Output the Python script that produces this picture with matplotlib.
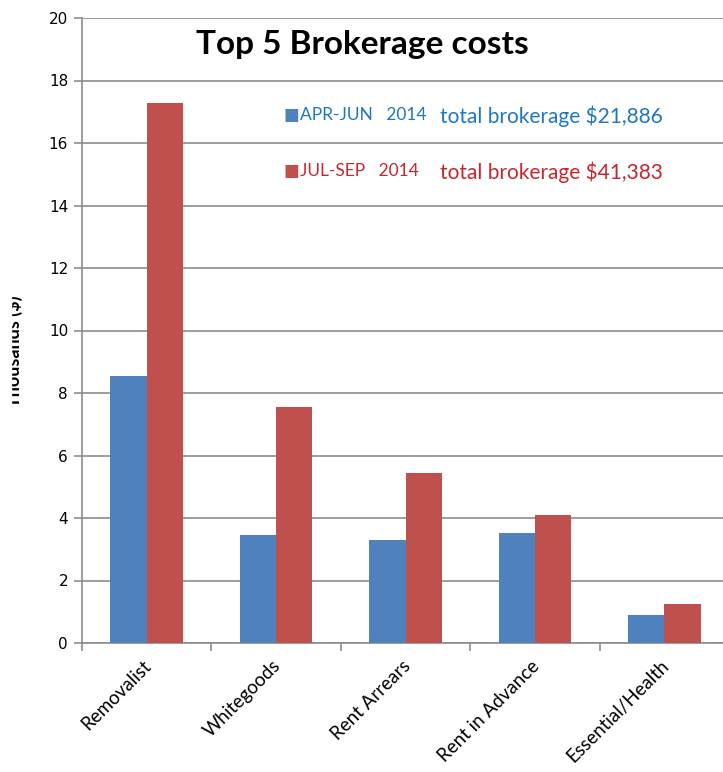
import numpy as np
import matplotlib
matplotlib.use("Agg")
import matplotlib.pyplot as plt
from matplotlib.patches import Rectangle

categories = ["Removalist", "Whitegoods", "Rent Arrears", "Rent in Advance", "Essential/Health"]
apr_jun = [8.54, 3.46, 3.30, 3.52, 0.90]
jul_sep = [17.28, 7.55, 5.44, 4.10, 1.25]
labels = ["APR-JUN   2014", "JUL-SEP   2014"]
totals = ["total brokerage $21,886", "total brokerage $41,383"]

blue = "#4F81BD"
red = "#C0504D"
blue_txt = "#1F77C0"
red_txt = "#C8262E"
grey = "#8C8C8C"
font = "Lato"

fig = plt.figure(figsize=(7.23, 7.72), dpi=100)
ax = fig.add_axes([82 / 723, 129 / 772, 647 / 723, 625 / 772])

x = np.arange(len(categories))
w = 0.28
ax.bar(x - w / 2, apr_jun, w, color=blue, zorder=3)
ax.bar(x + w / 2, jul_sep, w, color=red, zorder=3)

ax.set_xlim(-0.5, len(categories) - 0.5)
ax.set_ylim(0, 20)
ax.set_yticks(range(0, 21, 2))
ax.yaxis.grid(True, color=grey, linewidth=1.2, zorder=0)
ax.tick_params(axis="y", length=6, color=grey, width=1.2, labelsize=11, pad=4)
for t in ax.get_yticklabels():
    t.set_fontfamily("DejaVu Sans")

# category ticks sit between the groups, labels at group centres
ax.set_xticks(np.arange(len(categories) + 1) - 0.5)
ax.set_xticklabels([])
ax.tick_params(axis="x", length=6, color=grey, width=1.2)
for i, c in enumerate(categories):
    ax.text(i - 0.03, -0.45, c, rotation=45, ha="right", va="top",
            rotation_mode="anchor", fontsize=13.5, family=font)

for s in ["top", "right"]:
    ax.spines[s].set_visible(False)
for s in ["left", "bottom"]:
    ax.spines[s].set_color(grey)
    ax.spines[s].set_linewidth(1.2)

ax.text(0.433, 0.957, "Top 5 Brokerage costs", transform=ax.transAxes,
        ha="center", va="center", fontsize=24, fontweight="bold", family=font)

# legend drawn as text so the totals can sit next to it
rows = [(0.845, blue, blue_txt, 0.553), (0.755, red, red_txt, 0.553)]
for (y, col, tcol, tx), lab, tot in zip(rows, labels, totals):
    ax.text(0.312, y, "■", transform=ax.transAxes, color=col, fontsize=12,
            va="center", family="DejaVu Sans")
    ax.text(0.337, y, lab, transform=ax.transAxes, color=tcol, fontsize=12.5,
            va="center", family=font)
    ax.text(tx, y - 0.002, tot, transform=ax.transAxes,
            color=tcol, fontsize=15, va="center", family=font)

fig.text(13 / 723, 0.545, "Thousands ($)", rotation=90, ha="center", va="center",
         fontsize=13, fontweight="bold", family=font)
# the original chart is cut off at the left, only part of the label shows
fig.add_artist(Rectangle((0, 0), 11 / 723, 1, transform=fig.transFigure,
                         color="white", zorder=10))

fig.savefig("out.png", dpi=100)
